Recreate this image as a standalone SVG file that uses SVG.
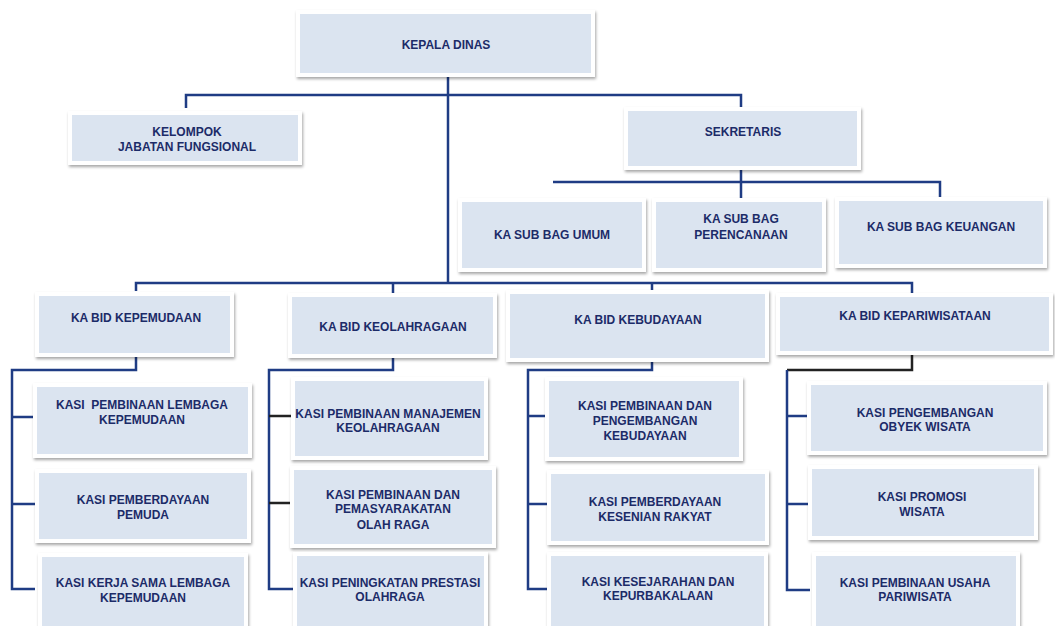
<svg xmlns="http://www.w3.org/2000/svg" width="1055" height="626" viewBox="0 0 1055 626">
<style>
.box{fill:#dbe4f0;stroke:#ffffff;stroke-width:4;filter:url(#sh)}
.t{font-family:"Liberation Sans",Arial,sans-serif;font-weight:bold;font-size:12px;fill:#1c2b68;text-anchor:middle}
.ln{fill:none;stroke:#1f3c84;stroke-width:2.5}
.dk{fill:none;stroke:#222222;stroke-width:2.5}
</style>
<defs>
<filter id="sh" x="-10%" y="-10%" width="120%" height="130%">
<feDropShadow dx="1" dy="2" stdDeviation="1.5" flood-color="#000" flood-opacity="0.35"/>
</filter>
</defs>
<rect width="1055" height="626" fill="#ffffff"/>
<g id="connectors">
<path class="ln" d="M448,77 V283"/>
<path class="ln" d="M186,108 V95 H741 V107"/>
<path class="ln" d="M553,182 H940 V197 M741,170 V198"/>
<path class="ln" d="M136,291 V283 H912 V293 M393,283 V293 M652,283 V290"/>
<path class="ln" d="M136,357 V370 H12 V589 H35 M12,417 H35 M12,504 H35"/>
<path class="ln" d="M393,358 V370 H269 V589 H293"/>
<path class="dk" d="M269,416 H293 M269,503 H293"/>
<path class="ln" d="M652,362 V370 H528 V589 H547 M528,416 H547 M528,504 H547"/>
<path class="dk" d="M912,355 V370 H787"/>
<path class="ln" d="M787,370 V590 H810 M787,416 H810 M787,504 H810"/>
</g>
<g id="kepala"><rect class="box" x="298" y="12" width="295" height="63"/><text class="t" x="446" y="49">KEPALA DINAS</text></g>
<g id="kelompok"><rect class="box" x="70" y="113" width="230" height="50"/><text class="t" x="187" y="136">KELOMPOK</text><text class="t" x="187" y="151">JABATAN FUNGSIONAL</text></g>
<g id="sekretaris"><rect class="box" x="626" y="109" width="233" height="59"/><text class="t" x="743" y="136">SEKRETARIS</text></g>
<g id="umum"><rect class="box" x="460" y="200" width="184" height="70"/><text class="t" x="552" y="239">KA SUB BAG UMUM</text></g>
<g id="perencanaan"><rect class="box" x="654" y="200" width="170" height="70"/><text class="t" x="741" y="223">KA SUB BAG</text><text class="t" x="741" y="239">PERENCANAAN</text></g>
<g id="keuangan"><rect class="box" x="837" y="199" width="208" height="67"/><text class="t" x="941" y="231">KA SUB BAG KEUANGAN</text></g>
<g id="kepemudaan"><rect class="box" x="37" y="294" width="195" height="61"/><text class="t" x="136" y="322">KA BID KEPEMUDAAN</text></g>
<g id="keolahragaan"><rect class="box" x="290" y="295" width="205" height="61"/><text class="t" x="393" y="331">KA BID KEOLAHRAGAAN</text></g>
<g id="kebudayaan"><rect class="box" x="508" y="292" width="259" height="68"/><text class="t" x="638" y="324">KA BID KEBUDAYAAN</text></g>
<g id="kepariwisataan"><rect class="box" x="778" y="295" width="273" height="58"/><text class="t" x="915" y="320">KA BID KEPARIWISATAAN</text></g>
<g id="kasi-lembaga"><rect class="box" x="35" y="385" width="215" height="71"/><text class="t" x="142" y="409">KASI&#160; PEMBINAAN LEMBAGA</text><text class="t" x="142" y="424">KEPEMUDAAN</text></g>
<g id="kasi-pemuda"><rect class="box" x="37" y="471" width="212" height="70"/><text class="t" x="143" y="504">KASI PEMBERDAYAAN</text><text class="t" x="143" y="519">PEMUDA</text></g>
<g id="kasi-kerjasama"><rect class="box" x="40" y="555" width="206" height="80"/><text class="t" x="143" y="587">KASI KERJA SAMA LEMBAGA</text><text class="t" x="143" y="602">KEPEMUDAAN</text></g>
<g id="kasi-manajemen"><rect class="box" x="293" y="379" width="193" height="79"/><text class="t" x="388" y="418">KASI PEMBINAAN MANAJEMEN</text><text class="t" x="388" y="432">KEOLAHRAGAAN</text></g>
<g id="kasi-pemasyarakatan"><rect class="box" x="292" y="468" width="202" height="78"/><text class="t" x="393" y="499">KASI PEMBINAAN DAN</text><text class="t" x="393" y="513">PEMASYARAKATAN</text><text class="t" x="393" y="529">OLAH RAGA</text></g>
<g id="kasi-prestasi"><rect class="box" x="295" y="554" width="191" height="80"/><text class="t" x="390" y="587">KASI PENINGKATAN PRESTASI</text><text class="t" x="390" y="601">OLAHRAGA</text></g>
<g id="kasi-kebudayaan"><rect class="box" x="547" y="379" width="194" height="80"/><text class="t" x="645" y="410">KASI PEMBINAAN DAN</text><text class="t" x="645" y="425">PENGEMBANGAN</text><text class="t" x="645" y="440">KEBUDAYAAN</text></g>
<g id="kasi-kesenian"><rect class="box" x="549" y="472" width="218" height="71"/><text class="t" x="655" y="506">KASI PEMBERDAYAAN</text><text class="t" x="655" y="521">KESENIAN RAKYAT</text></g>
<g id="kasi-kesejarahan"><rect class="box" x="549" y="554" width="217" height="80"/><text class="t" x="658" y="586">KASI KESEJARAHAN DAN</text><text class="t" x="658" y="600">KEPURBAKALAAN</text></g>
<g id="kasi-obyek"><rect class="box" x="809" y="383" width="236" height="70"/><text class="t" x="925" y="417">KASI PENGEMBANGAN</text><text class="t" x="925" y="431">OBYEK WISATA</text></g>
<g id="kasi-promosi"><rect class="box" x="810" y="467" width="226" height="71"/><text class="t" x="922" y="501">KASI PROMOSI</text><text class="t" x="922" y="516">WISATA</text></g>
<g id="kasi-usaha"><rect class="box" x="814" y="554" width="204" height="80"/><text class="t" x="915" y="587">KASI PEMBINAAN USAHA</text><text class="t" x="915" y="601">PARIWISATA</text></g>
</svg>
